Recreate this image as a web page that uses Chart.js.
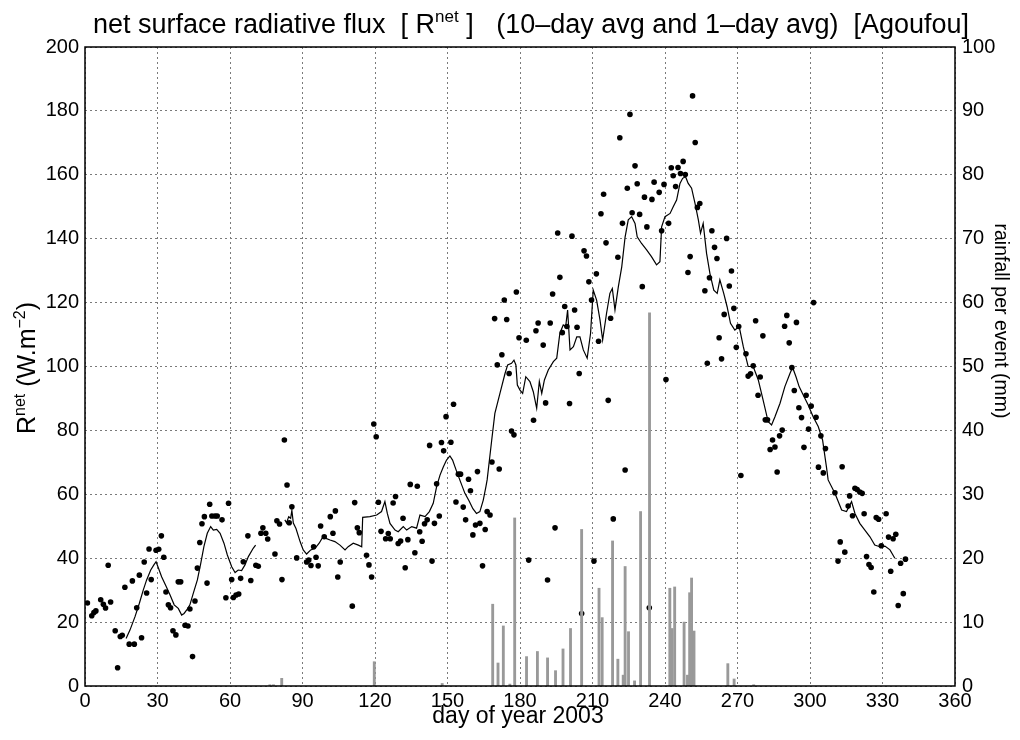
<!DOCTYPE html>
<html>
<head>
<meta charset="utf-8">
<script src="https://cdn.jsdelivr.net/npm/chart.js@4"></script>
<style>
  html, body { margin: 0; padding: 0; background: #fff; }
</style>
</head>
<body>
<canvas id="chart" width="1020" height="740"></canvas>
<script>
// daily values (1-day avg), W/m2
const dotDay = [1, 2.8, 3.7, 4.5, 6.5, 7.6, 8.5, 9.6, 10.6, 12.5, 13.5, 14.6, 15.4, 16.5, 18.3, 19.6, 20.4, 21.4, 22.5, 23.4,
  24.5, 25.5, 26.5, 27.4, 29.4, 30.5, 31.6, 32.6, 33.5, 34.5, 35.4, 36.4, 37.6, 38.6, 39.6, 41.4, 42.6, 43.4, 44.5, 45.5,
  46.5, 47.5, 48.4, 49.4, 50.5, 51.6, 52.5, 53.8, 54.7, 56.7, 58.3, 59.4, 60.7, 61.4, 62.5, 63.6, 64.4, 65.5, 67.4, 68.6,
  70.7, 71.7, 72.8, 73.6, 74.8, 75.6, 78.6, 79.4, 80.5, 81.5, 82.5, 83.6, 84.5, 85.6, 87.6, 91.7, 92.6, 93.5, 94.6, 95.6,
  96.5, 97.5, 99, 101.5, 102.6, 103.6, 104.6, 105.6, 110.6, 111.6, 112.7, 113.5, 116.5, 117.5, 118.6, 119.5, 120.5, 121.4, 122.5, 124.4,
  125.5, 126.3, 127.5, 128.5, 129.6, 130.6, 131.6, 132.5, 133.6, 134.6, 136.5, 137.5, 138.5, 139.5, 140.5, 141.6, 142.6, 143.6, 144.6, 145.5,
  146.6, 147.5, 148.4, 149.4, 151.4, 152.5, 153.5, 154.5, 155.4, 156.5, 157.5, 158.7, 159.5, 160.5, 161.6, 162.4, 163.4, 164.5, 165.6, 166.4,
  167.6, 168.4, 169.5, 170.6, 171.4, 172.5, 173.5, 174.5, 175.5, 176.5, 177.5, 178.5, 179.6, 182.6, 183.6, 185.6, 186.6, 187.5, 189.6, 190.6,
  191.4, 192.5, 193.5, 194.5, 195.6, 196.5, 197.5, 198.5, 199.4, 200.5, 201.5, 202.6, 203.6, 204.5, 205.5, 206.5, 207.5, 208.5, 209.6, 210.6,
  211.6, 212.5, 213.5, 214.6, 215.6, 216.5, 217.5, 218.6, 220.5, 221.3, 222.4, 223.5, 224.4, 225.5, 226.4, 227.6, 228.5, 229.5, 230.6, 231.5,
  232.5, 233.5, 234.6, 235.5, 237.6, 238.6, 239.6, 240.4, 241.5, 242.6, 243.4, 244.4, 245.4, 246.4, 247.5, 248.4, 249.5, 250.4, 251.4, 252.5,
  253.4, 254.4, 256.5, 257.5, 258.4, 259.4, 260.5, 261.5, 262.4, 263.4, 264.5, 265.5, 266.6, 267.5, 268.5, 269.5, 270.5, 271.4, 273.5, 274.4,
  275.4, 276.5, 277.5, 278.5, 279.4, 280.5, 281.5, 282.4, 283.5, 284.5, 285.5, 286.4, 287.4, 288.5, 289.5, 290.4, 291.4, 292.5, 293.5, 294.4,
  295.4, 296.5, 297.5, 298.4, 299.4, 300.5, 301.5, 302.5, 303.5, 304.5, 305.5, 306.4, 310.3, 311.6, 312.5, 313.3, 314.4, 315.8, 316.4, 317.6,
  318.6, 319.5, 320.6, 321.6, 322.4, 323.4, 324.4, 325.3, 326.4, 327.4, 328.4, 329.5, 331.5, 332.5, 333.4, 334.4, 335.5, 336.5, 337.5, 338.6,
  339.5];
const dotFlux = [26, 22, 23, 23.5, 27, 25.6, 24.4, 37.8, 26.3, 17.3, 5.7, 15.5, 15.9, 30.9, 13.1, 32.9, 13.1, 24.5, 34.7, 15.1,
  38.8, 29.1, 42.9, 33.3, 42.5, 42.8, 47, 40.3, 29.4, 25.4, 24.5, 17.3, 16, 32.6, 32.6, 19, 18.8, 24.1, 9.2, 26.6,
  36.9, 44.9, 50.8, 53, 32.2, 56.9, 53.2, 53.2, 53.2, 52, 27.6, 57.2, 33.3, 27.7, 28.5, 28.8, 33.7, 38.9, 47, 33,
  37.8, 37.5, 47.8, 49.5, 47.8, 46, 41.3, 51.7, 50.7, 33.3, 77, 62.9, 51.1, 56.1, 40.1, 38.8, 39.4, 37.7, 43.6, 40.3,
  37.6, 50.1, 46.7, 53, 47.8, 54.8, 34.1, 38.8, 25, 57.4, 49.5, 48, 40.9, 37.9, 34.1, 82, 78, 57.5, 48.4, 46.1,
  47.7, 46.1, 57.3, 59.3, 44.6, 45.4, 52.5, 37, 45.8, 63.1, 41.7, 62.5, 48.3, 45.3, 50.8, 52, 75.3, 39.1, 50.9, 63.3,
  53.2, 76.2, 73.6, 84.3, 76.3, 88.2, 57.6, 66.3, 66.3, 56, 52, 64.7, 61.1, 47.3, 50.4, 67.1, 50.9, 37.6, 49, 54.6,
  53.5, 70.1, 115, 100.5, 67.9, 103.7, 120.8, 114.7, 97.8, 79.8, 78.6, 123.3, 109, 108.2, 39.4, 83.2, 111.2, 113.6, 106.7, 88.6,
  33.2, 113.6, 122.7, 49.5, 141.8, 127.9, 110.6, 118.8, 112.5, 88.4, 140.8, 117.7, 112.3, 97.8, 22.7, 136.2, 134.6, 126.5, 120.8, 39.1,
  129, 107.9, 147.8, 153.9, 138.7, 89.4, 115.1, 52.3, 134.2, 171.6, 144.8, 67.6, 155.8, 178.9, 148.1, 162.8, 157.2, 147.6, 125, 153,
  143.7, 24.5, 152.3, 157.7, 154.5, 142.5, 157, 95.9, 144.8, 162.2, 159.7, 156.3, 162.3, 160.4, 164.2, 160.1, 129.4, 134.4, 184.7, 170.1,
  149.8, 151, 123.7, 101, 127.8, 142.5, 137.3, 133.8, 109, 102.4, 116.3, 140.1, 125.2, 129.9, 118.2, 106, 112.5, 65.9, 104, 97,
  97.7, 100.2, 114.3, 91, 96.7, 109.6, 83.3, 83.3, 74, 77, 74.8, 67, 78.3, 80.1, 112.6, 116, 107.4, 99.7, 92.5, 113.8,
  87.1, 84, 74.7, 91, 80.4, 87.6, 120, 84.1, 68.5, 78.3, 66.7, 74.3, 60.5, 39.1, 45.1, 68.6, 41.9, 56.3, 59.5, 53.3,
  61.9, 61.5, 60.7, 60.3, 53.9, 40.5, 38, 37.1, 29.4, 52.7, 52.2, 43.9, 53.9, 46.6, 35.9, 46.1, 47.5, 25.2, 38.4, 28.9,
  39.7];

// 10-day running average, W/m2 (null = gap in record)
const avgDay = [17, 18.6, 20.7, 22.5, 24.1, 25.5, 27.2, 28.5, 29.4, 30.3, 31.7, 33.5, 35.2, 36.9, 38.6, 40, 41, 42.1, 43.4, 44.8,
  46.5, 47.9, 49.2, 50.6, 52, 53.1, 54.5, 55.9, 57.5, 58.9, 60.7, 62.1, 63.4, 64.8, 66.2, 67.6, 69.6, 70.6, 76, 82.7,
  83.4, 84.3, 85.1, 85.6, 86.2, 87.3, 89, 90.3, 91.7, 93.4, 95.2, 96.9, 98.3, 99.7, 101.4, 103.4, 105.5, 107.6, 108.9, 111,
  113.1, 114.5, 114.9, 117.9, 120.7, 122.7, 124.1, 125.1, 126.2, 128.3, 129.6, 131.7, 133.1, 135.2, 137.2, 138.6, 140.7, 142.5, 144.1, 145.5,
  146.9, 148.3, 149.6, 151, 152.1, 153.8, 155.4, 157.2, 158.9, 160.5, 162, 163.4, 164.8, 165.9, 166.4, 168.3, 169.6, 171.7, 173.8, 174.9,
  176.5, 177.5, 178.3, 178.9, 180, 181.1, 182.4, 184.1, 185.5, 186.9, 188, 189, 190.1, 191.7, 193.8, 195.2, 196.5, 197.9, 198.9, 199.7,
  200.7, 202.1, 203.5, 204.8, 206.2, 207.8, 209.2, 210.3, 211.7, 213.1, 214.2, 215.8, 217.2, 218.2, 219.3, 220.7, 222.1, 223.5, 224.8, 226.2,
  227.6, 228.5, 230.3, 232.4, 234.4, 236.5, 237.9, 238.6, 240, 242.1, 243.4, 244.8, 246.2, 247.3, 248.5, 249.6, 251, 252.4, 253.8, 254.7,
  255.8, 257.2, 258.6, 260.2, 261.6, 262.7, 264.3, 265.7, 267.1, 268.9, 270.7, 272.4, 274.4, 276.5, 278.6, 280.6, 282.7, 284.1, 285.5, 287.6,
  289.6, 291.7, 292.8, 294.2, 295.5, 297.2, 299.3, 301.3, 303.4, 305.2, 306.8, 307.5, 310.3, 313.1, 315.1, 317.2, 318.6, 320.6, 322.7, 324.8,
  326.8, 328.9, 331, 333.1, 335.1];
const avgFlux = [14.9, 17.5, 21.7, 25.9, 30, 33.2, 36.3, 37.9, 38.9, 37.1, 34.2, 31.3, 28.5, 25.4, 24.3, 22.2, 22.7, 23.8, 25.4, 29,
  33.2, 38.4, 43.6, 47.8, 49.9, 48.8, 49, 47.8, 44.7, 41, 37.3, 35.5, 36.3, 36.1, 37.9, 40.5, 43.1, 44.1, null, 52,
  51.1, 53, 52.5, 55, 51, 49.3, 45.2, 42.6, 41.3, 42.6, 43.1, 44.7, 46.5, 46.2, 45.7, 45.2, 44.1, 42.6, 43.6, 44.7,
  44.1, 43.6, 52.8, 53, 53.5, 54.6, 57.7, 54, 50.9, 48.8, 48.3, 49.9, 48.8, 49.9, 49.4, 53.5, 53, 54.6, 57.2, 62.4,
  66, 68.6, 70.7, 72, 70.7, 67.1, 63.9, 60.3, 58, 55.5, 54, 54.6, 58.2, 62.4, 64.5, 77, 85.3, 91.6, 97.8, 100.5,
  101, 102, 100.5, 94.2, 92.6, 91.6, 96.8, 95.3, 92.1, 86.9, 95.3, 91.6, 95.8, 98.9, 101.5, 102.6, 110.4, 113, 112.5, 117.7,
  105.2, 106.2, 109.3, 109.3, 105.2, 102.6, 110.4, 123.9, 120.8, 114.6, 108.3, 116.6, 122.9, 124.4, 117.7, 125, 131.2, 140.6, 145.9, 146.9,
  144.8, 140.6, 138.5, 136.5, 134.4, 131.8, 132.8, 143.7, 146.9, 147.9, 150, 152.1, 157.3, 158.9, 159.4, 157.3, 155.8, 151.1, 145.9, 141.7,
  144.8, 135.4, 129.1, 123.9, 122.9, 127.1, 122.9, 118.7, 113.5, 111.4, 112.5, 106.2, 100, 100, 95.8, 89.5, 82.7, 81.7, 84.3, 88.5,
  93.7, 97.8, 99.7, 96.8, 93.7, 91.1, 87.9, 84.3, 81.2, 77, 68.6, 64.5, 60.3, 55.1, 54.6, 57.7, 54, 50.9, 48.8, 46.7,
  44.1, 43.6, 43.8, 42.6, 40];

// rainfall per event, mm (right axis)
const rainDay = [76.5, 78, 81.4, 119.7, 147.8, 168.7, 170.9, 173.1, 175.8, 177.8, 182.7, 187.2, 191.4, 194.7, 197.8, 200.9, 205.5, 212.7, 214, 218.3,
  220.5, 222.7, 223.5, 224.9, 227.4, 229.9, 233.6, 242, 242.9, 244, 247.9, 249.3, 250.2, 251, 252, 266, 268.6, 276.7];
const rainMm = [0.2, 0.2, 1.2, 3.8, 0.4, 12.8, 3.6, 9.4, 0.3, 26.3, 4.6, 5.4, 4.4, 2.4, 5.8, 9, 24.5, 15.3, 10.7, 22.7,
  4.2, 1.7, 18.7, 8.5, 0.8, 27.3, 58.4, 15.3, 9, 15.5, 10, 1.7, 14.6, 16.9, 8.6, 3.5, 1.1, 0.2];

const xTicks = [0, 30, 60, 90, 120, 150, 180, 210, 240, 270, 300, 330, 360];

const FONT = "'Liberation Sans', Arial, sans-serif";
const titleParts = [
  { t: 'net surface radiative flux  [ R' },
  { t: 'net', sup: true },
  { t: ' ]   (10\u2013day avg and 1\u2013day avg)  [Agoufou]' }
];
const yLabelParts = [
  { t: 'R' }, { t: 'net', sup: true }, { t: ' (W.m' }, { t: '\u22122', sup: true }, { t: ')' }
];

function richWidth(ctx, parts, size) {
  let w = 0;
  parts.forEach(p => {
    ctx.font = (p.sup ? Math.round(size * 0.62) : size) + 'px ' + FONT;
    w += ctx.measureText(p.t).width;
  });
  return w;
}
function drawRich(ctx, parts, x, y, size) {
  parts.forEach(p => {
    const s = p.sup ? Math.round(size * 0.62) : size;
    ctx.font = s + 'px ' + FONT;
    ctx.fillText(p.t, x, p.sup ? y - size * 0.42 : y);
    x += ctx.measureText(p.t).width;
  });
}

const textPlugin = {
  id: 'textPlugin',
  afterDraw(chart) {
    const ctx = chart.ctx;
    const a = chart.chartArea;
    ctx.save();
    // frame
    ctx.strokeStyle = '#000';
    ctx.lineWidth = 1.5;
    ctx.strokeRect(a.left, a.top, a.right - a.left, a.bottom - a.top);

    ctx.fillStyle = '#000';
    ctx.textBaseline = 'alphabetic';
    ctx.textAlign = 'left';

    // title
    const ts = 27;
    const tw = richWidth(ctx, titleParts, ts);
    drawRich(ctx, titleParts, 531 - tw / 2, 33, ts);

    // x axis title
    ctx.font = '23px ' + FONT;
    ctx.textAlign = 'center';
    ctx.fillText('day of year 2003', 518, 723);
    ctx.textAlign = 'left';

    // left y title
    const ls = 25;
    const lw = richWidth(ctx, yLabelParts, ls);
    ctx.save();
    ctx.translate(35, 368);
    ctx.rotate(-Math.PI / 2);
    drawRich(ctx, yLabelParts, -lw / 2, 0, ls);
    ctx.restore();

    // right y title
    ctx.save();
    ctx.translate(995, 321);
    ctx.rotate(Math.PI / 2);
    ctx.font = '19.5px ' + FONT;
    ctx.textAlign = 'center';
    ctx.fillText('rainfall per event (mm)', 0, 0);
    ctx.restore();

    ctx.restore();
  }
};

const gridStyle = {
  color: '#7a7a7a',
  lineWidth: 1,
  drawTicks: false,
  offset: false
};
const dotted = { display: false, dash: [2, 3] };

new Chart(document.getElementById('chart'), {
  type: 'scatter',
  data: {
    datasets: [
      {
        type: 'bar',
        label: 'rainfall',
        data: rainDay.map((d, i) => ({ x: d, y: rainMm[i] })),
        yAxisID: 'y2',
        backgroundColor: '#999999',
        borderWidth: 0,
        barThickness: 2.2,
        grouped: false,
        order: 0
      },
      {
        type: 'line',
        label: '10-day avg',
        data: avgDay.map((d, i) => ({ x: d, y: avgFlux[i] })),
        yAxisID: 'y',
        borderColor: '#000',
        borderWidth: 1.2,
        pointRadius: 0,
        tension: 0,
        spanGaps: false,
        order: 1
      },
      {
        type: 'scatter',
        label: '1-day avg',
        data: dotDay.map((d, i) => ({ x: d, y: dotFlux[i] })),
        yAxisID: 'y',
        backgroundColor: '#000',
        borderColor: '#000',
        pointRadius: 2.8,
        borderWidth: 0,
        order: 2
      }
    ]
  },
  options: {
    responsive: false,
    animation: false,
    devicePixelRatio: 1,
    layout: { padding: { top: 47, left: 0, right: 0, bottom: 0 } },
    plugins: { legend: { display: false }, tooltip: { enabled: false } },
    scales: {
      x: {
        type: 'linear',
        position: 'bottom',
        offset: false,
        min: 0,
        max: 360,
        afterBuildTicks: s => { s.ticks = xTicks.map(v => ({ value: v })); },
        afterFit: s => { s.height = 54; },
        grid: gridStyle,
        border: dotted,
        ticks: { color: '#000', font: { family: FONT, size: 20 }, padding: 3, maxRotation: 0, autoSkip: false }
      },
      y: {
        position: 'left',
        min: 0,
        max: 200,
        afterFit: s => { s.width = 85; },
        grid: gridStyle,
        border: dotted,
        ticks: { stepSize: 20, color: '#000', font: { family: FONT, size: 20 }, padding: 6 }
      },
      y2: {
        position: 'right',
        min: 0,
        max: 100,
        afterFit: s => { s.width = 65; },
        grid: { display: false, drawTicks: false },
        border: { display: false },
        ticks: { stepSize: 10, color: '#000', font: { family: FONT, size: 20 }, padding: 7 }
      }
    }
  },
  plugins: [textPlugin]
});
</script>
</body>
</html>
